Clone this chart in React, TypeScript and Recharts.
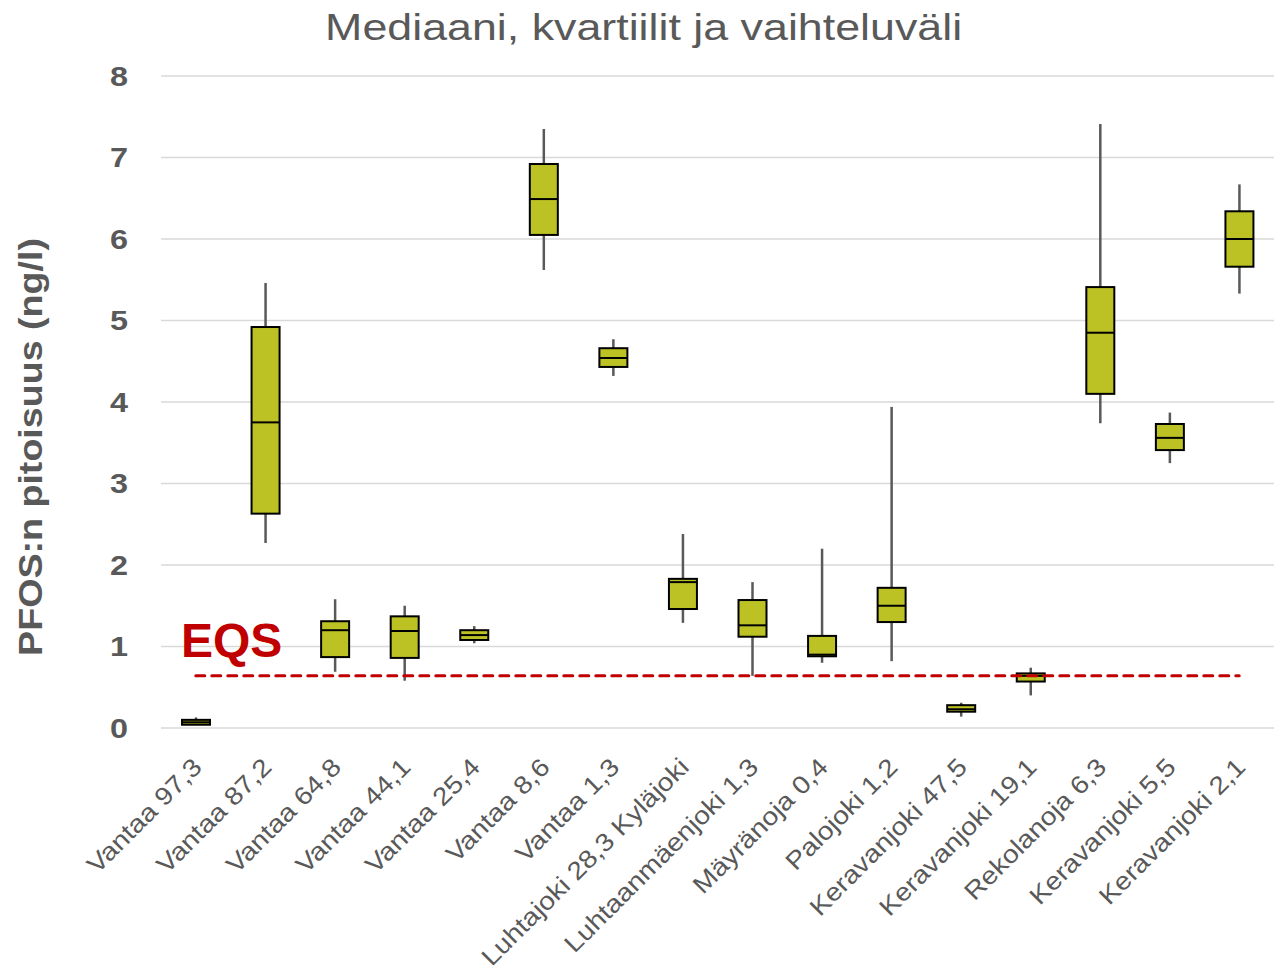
import { ComposedChart, Bar, XAxis, YAxis, CartesianGrid, ReferenceLine } from "recharts";

const categories = [
  "Vantaa 97,3",
  "Vantaa 87,2",
  "Vantaa 64,8",
  "Vantaa 44,1",
  "Vantaa 25,4",
  "Vantaa 8,6",
  "Vantaa 1,3",
  "Luhtajoki 28,3 Kyläjoki",
  "Luhtaanmäenjoki 1,3",
  "Mäyränoja 0,4",
  "Palojoki 1,2",
  "Keravanjoki 47,5",
  "Keravanjoki 19,1",
  "Rekolanoja 6,3",
  "Keravanjoki 5,5",
  "Keravanjoki 2,1",
];
const mins = [0.04, 2.27, 0.69, 0.58, 1.04, 5.62, 4.32, 1.29, 0.64, 0.8, 0.82, 0.14, 0.4, 3.74, 3.25, 5.33];
const q1s = [0.04, 2.63, 0.87, 0.86, 1.08, 6.05, 4.43, 1.46, 1.12, 0.88, 1.3, 0.2, 0.57, 4.1, 3.41, 5.66];
const medians = [0.07, 3.75, 1.2, 1.19, 1.14, 6.49, 4.54, 1.79, 1.26, 0.9, 1.5, 0.23, 0.64, 4.85, 3.56, 6.0];
const q3s = [0.1, 4.92, 1.31, 1.37, 1.2, 6.92, 4.66, 1.83, 1.57, 1.13, 1.72, 0.28, 0.67, 5.41, 3.73, 6.34];
const maxs = [0.13, 5.46, 1.58, 1.5, 1.25, 7.35, 4.77, 2.38, 1.79, 2.2, 3.94, 0.31, 0.74, 7.41, 3.87, 6.67];
const yTicks = [0, 1, 2, 3, 4, 5, 6, 7, 8];
const eqs = 0.64;

const data = categories.map((name, i) => ({
  name,
  min: mins[i],
  q1: q1s[i],
  median: medians[i],
  q3: q3s[i],
  max: maxs[i],
  range: [mins[i], maxs[i]],
}));

const GREY = "#595959";
const FONT = "'Liberation Sans', Arial, sans-serif";

// whisker + box + median, drawn inside the min..max range bar
const BoxShape = (props: any) => {
  const { x, y, width, height, payload } = props;
  const span = payload.max - payload.min;
  const py = (v: number) => y + (height * (payload.max - v)) / span;
  const cx = x + width / 2;
  const top = py(payload.q3);
  const bot = py(payload.q1);
  return (
    <g>
      <line x1={cx} x2={cx} y1={y} y2={y + height} stroke={GREY} strokeWidth={2.5} />
      <rect x={x} y={top} width={width} height={Math.max(bot - top, 1)} fill="#BCC224" stroke="#000" strokeWidth={2} />
      <line x1={x} x2={x + width} y1={py(payload.median)} y2={py(payload.median)} stroke="#000" strokeWidth={2} />
    </g>
  );
};

const XTick = (props: any) => {
  const { x, y, payload } = props;
  const ax = x + 3;
  const ay = y + 28;
  return (
    <text
      x={0}
      y={0}
      transform={`translate(${ax} ${ay}) rotate(-45) scale(1.13 1)`}
      textAnchor="end"
      dominantBaseline="middle"
      fontSize={25}
      fill={GREY}
      fontFamily={FONT}
    >
      {payload.value}
    </text>
  );
};

const YTick = (props: any) => {
  const { y, payload } = props;
  return (
    <text
      x={0}
      y={0}
      transform={`translate(128 ${y}) scale(1.2 1)`}
      textAnchor="end"
      dominantBaseline="central"
      fontSize={27}
      fontWeight={700}
      fill={GREY}
      fontFamily={FONT}
    >
      {payload.value}
    </text>
  );
};

export default function App() {
  return (
    <div style={{ position: "absolute", left: 0, top: 0, width: 1274, height: 972, background: "#fff" }}>
      <div
        style={{
          position: "absolute",
          left: 0,
          width: 1287,
          top: 9,
          textAlign: "center",
          fontFamily: FONT,
          fontSize: 37,
          lineHeight: 1,
          color: GREY,
          transform: "scaleX(1.21)",
          transformOrigin: "643px 0",
          whiteSpace: "nowrap",
        }}
      >
        Mediaani, kvartiilit ja vaihteluväli
      </div>
      <ComposedChart width={1274} height={972} data={data} margin={{ top: 76, right: 0, bottom: 44, left: 0 }}>
        <CartesianGrid vertical={false} stroke="#D9D9D9" strokeWidth={1.5} />
        <XAxis dataKey="name" interval={0} height={200} tickLine={false} axisLine={false} tick={<XTick />} />
        <YAxis
          width={161}
          domain={[0, 8]}
          ticks={yTicks}
          tickLine={false}
          axisLine={false}
          tick={<YTick />}
          label={{
            value: "PFOS:n pitoisuus (ng/l)",
            content: () => (
              <text
                x={0}
                y={0}
                transform="translate(30 447) rotate(-90) scale(1.14 1)"
                textAnchor="middle"
                dominantBaseline="central"
                fontSize={33}
                fontWeight={700}
                fill={GREY}
                fontFamily={FONT}
              >
                PFOS:n pitoisuus (ng/l)
              </text>
            ),
          }}
        />
        <Bar dataKey="range" barSize={28} shape={<BoxShape />} isAnimationActive={false} />
        <ReferenceLine
          segment={[
            { x: categories[0], y: eqs },
            { x: categories[categories.length - 1], y: eqs },
          ]}
          stroke="#C00000"
          strokeWidth={3}
          strokeDasharray="9 7"
          strokeLinecap="round"
          ifOverflow="visible"
        />
      </ComposedChart>
      <div
        style={{
          position: "absolute",
          left: 181,
          top: 614,
          fontFamily: FONT,
          fontSize: 48,
          fontWeight: 700,
          color: "#C00000",
          lineHeight: "54px",
        }}
      >
        EQS
      </div>
    </div>
  );
}
